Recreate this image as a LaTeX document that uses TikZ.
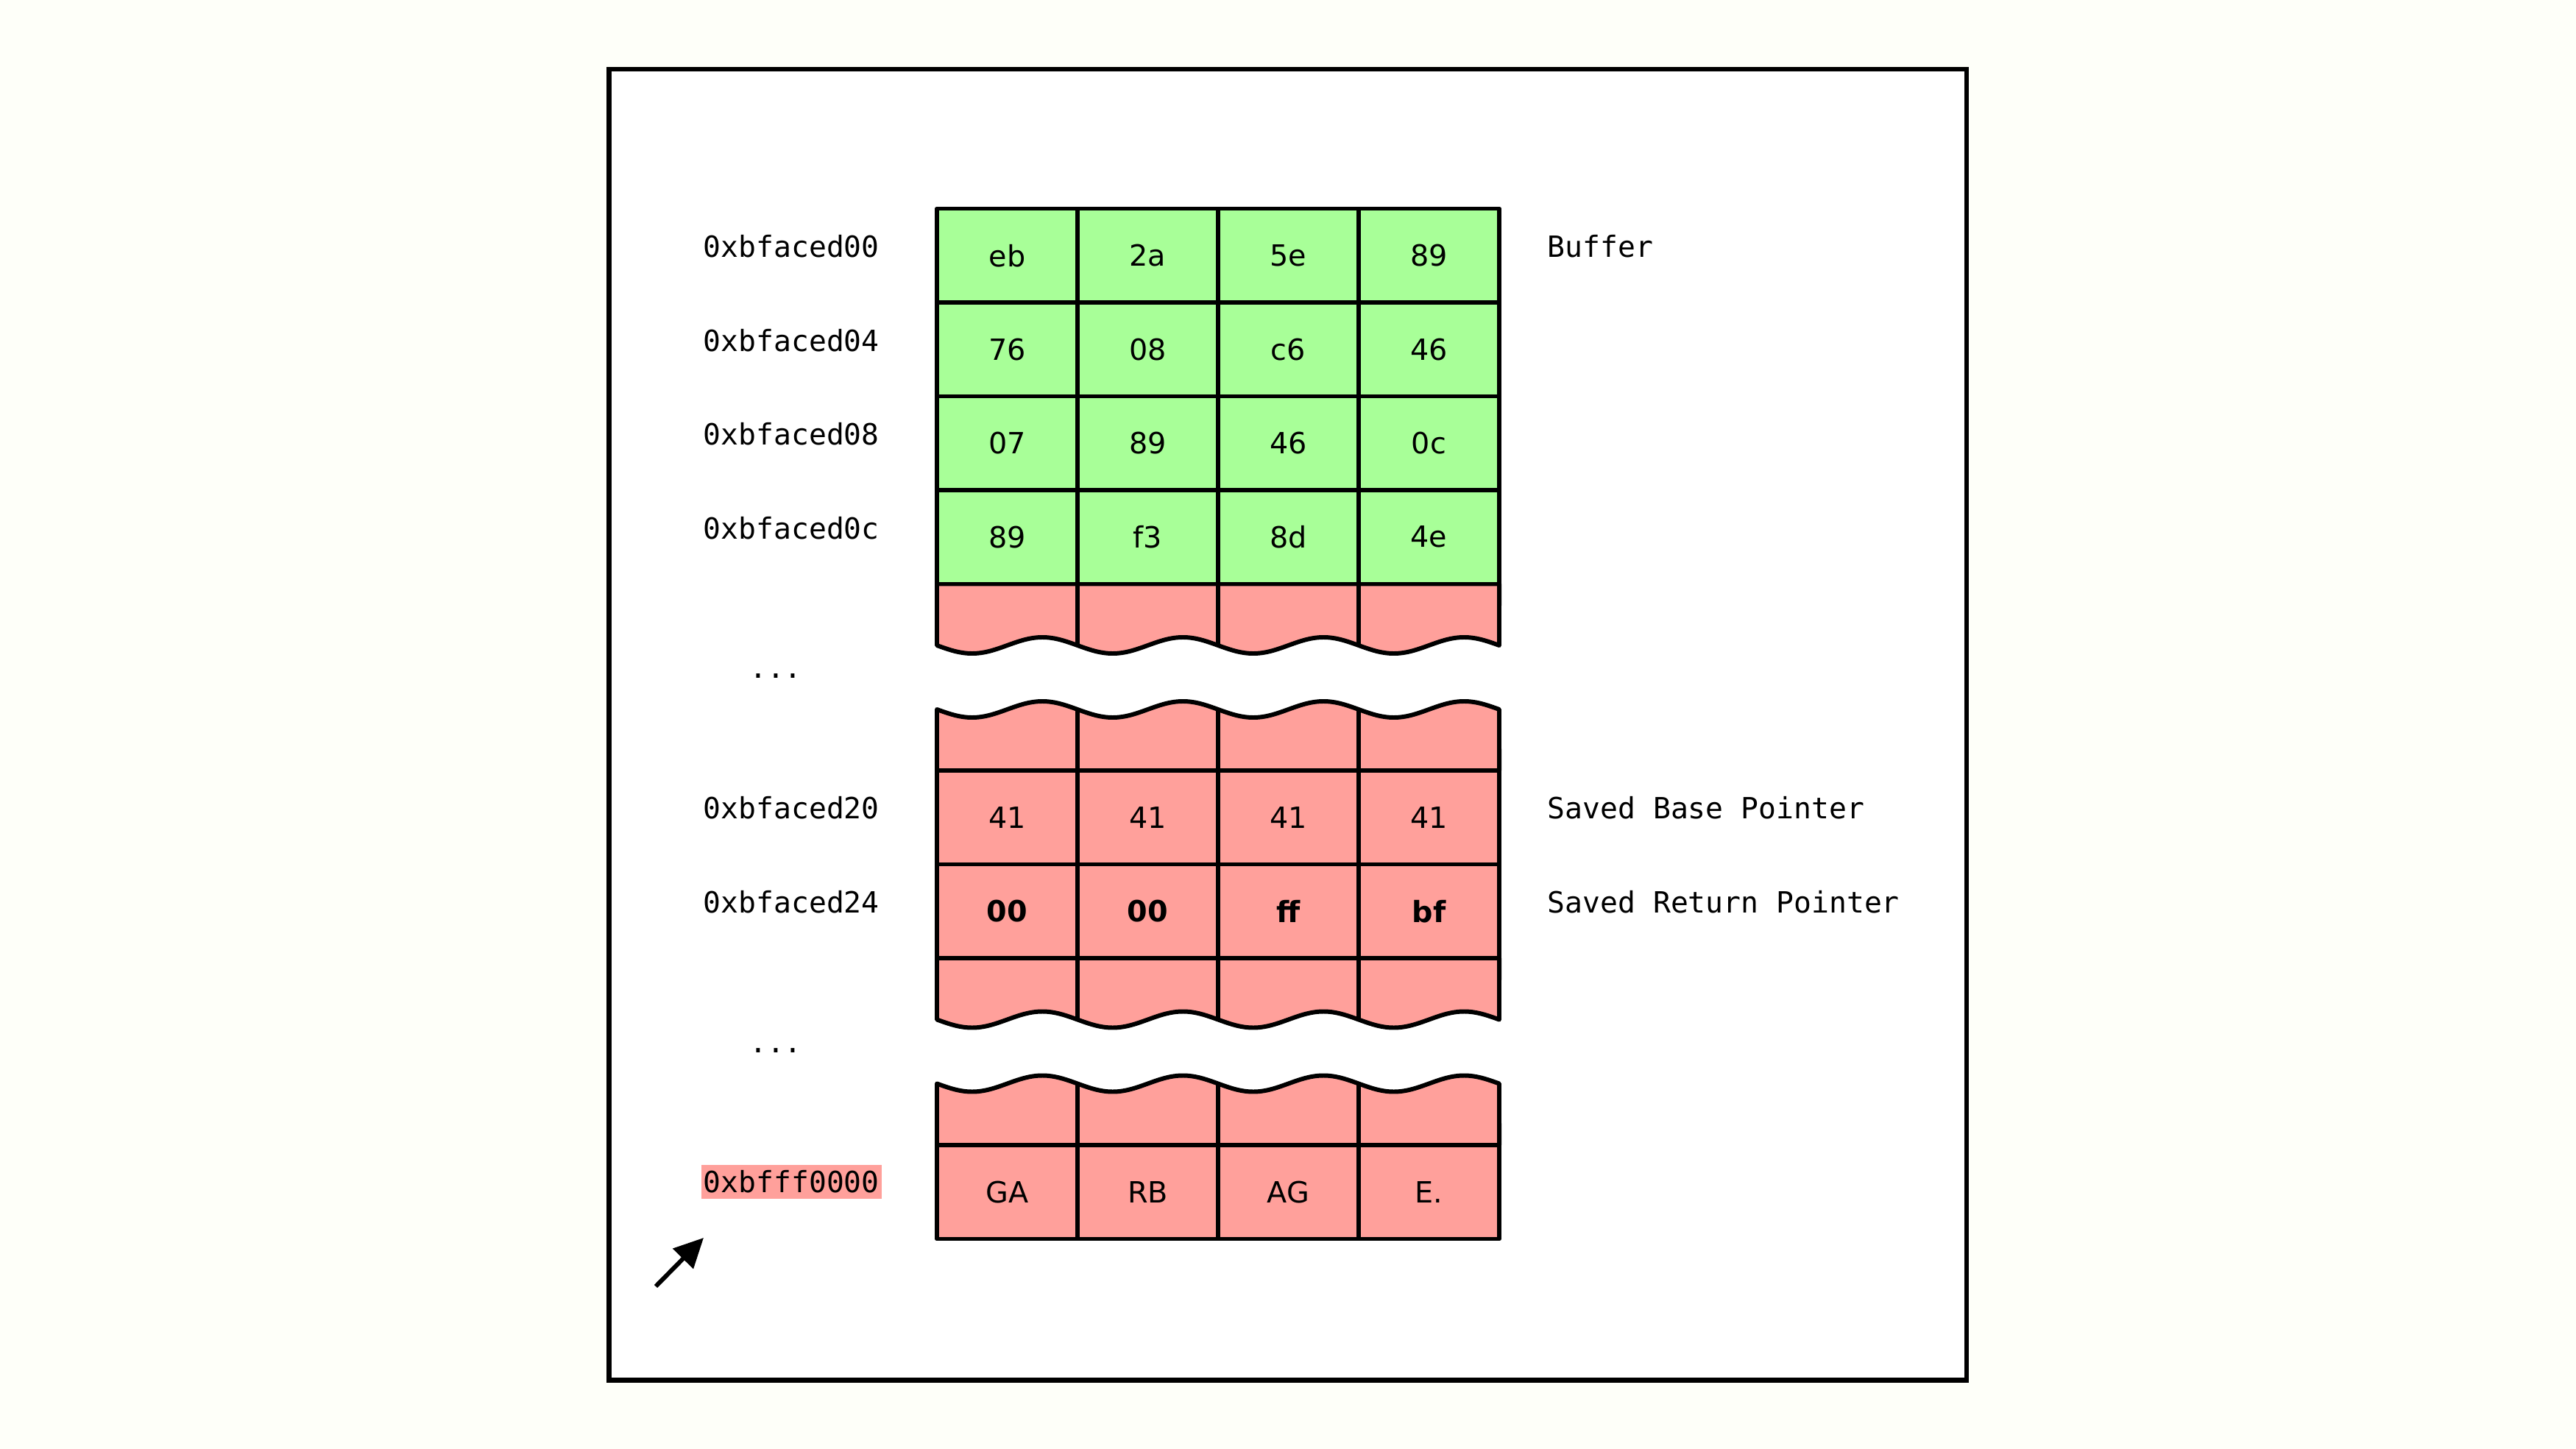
\documentclass[tikz,border=0pt]{standalone}
\usepackage{fontspec}
\setmainfont{DejaVu Sans}
\setmonofont{DejaVu Sans Mono}
\usetikzlibrary{arrows.meta}
\definecolor{bgcream}{RGB}{254,255,249}
\definecolor{cellgreen}{RGB}{168,255,152}
\definecolor{cellred}{RGB}{255,160,155}
\tikzset{
  gridline/.style={draw=black, line width=1.7pt, line join=round},
  cell/.style={gridline, minimum width=1.91cm, minimum height=1.275cm, inner sep=0pt,
    font=\fontsize{11.3}{13}\selectfont},
  gcell/.style={cell, fill=cellgreen},
  rcell/.style={cell, fill=cellred},
  bcell/.style={cell, fill=cellred, font=\fontsize{11.3}{13}\selectfont\bfseries},
  addr/.style={anchor=west, inner sep=0pt, font=\fontsize{11.3}{13}\selectfont\ttfamily},
  note/.style={anchor=west, inner sep=0pt, font=\fontsize{11.3}{13}\selectfont\ttfamily},
  dots/.style={anchor=base, inner sep=0pt, font=\fontsize{11.3}{13}\selectfont\ttfamily},
}
\newcommand\wavyrow{\foreach \i in {1,...,4}{ sin ++(0.4775,-0.11) cos ++(0.4775,0.11) sin ++(0.4775,0.11) cos ++(0.4775,-0.11)}}
\begin{document}
\begin{tikzpicture}
\useasboundingbox[fill=bgcream] (0,0) rectangle (35,-19.69);
\draw[line width=1.9pt, fill=white] (8.275,-0.94) rectangle (26.72,-18.755);

% wavy partial pieces
\draw[gridline, fill=cellred] (12.73,-7.935) -- (12.73,-8.77) \wavyrow -- (20.37,-7.935) -- cycle;
\draw[gridline, fill=cellred] (12.73,-10.47) -- (12.73,-9.64) \wavyrow -- (20.37,-10.47) -- cycle;
\draw[gridline, fill=cellred] (12.73,-13.02) -- (12.73,-13.855) \wavyrow -- (20.37,-13.02) -- cycle;
\draw[gridline, fill=cellred] (12.73,-15.56) -- (12.73,-14.725) \wavyrow -- (20.37,-15.56) -- cycle;
\foreach \x in {14.64,16.55,18.46}{
  \draw[gridline] (\x,-7.935) -- (\x,-8.77);
  \draw[gridline] (\x,-10.47) -- (\x,-9.64);
  \draw[gridline] (\x,-13.02) -- (\x,-13.855);
  \draw[gridline] (\x,-15.56) -- (\x,-14.725);
}

% green buffer cells
\node[gcell] (c11) at (13.685,-3.4725) {eb};
\node[gcell] (c12) at (15.595,-3.4725) {2a};
\node[gcell] (c13) at (17.505,-3.4725) {5e};
\node[gcell] (c14) at (19.415,-3.4725) {89};
\node[gcell] (c21) at (13.685,-4.7475) {76};
\node[gcell] (c22) at (15.595,-4.7475) {08};
\node[gcell] (c23) at (17.505,-4.7475) {c6};
\node[gcell] (c24) at (19.415,-4.7475) {46};
\node[gcell] (c31) at (13.685,-6.0225) {07};
\node[gcell] (c32) at (15.595,-6.0225) {89};
\node[gcell] (c33) at (17.505,-6.0225) {46};
\node[gcell] (c34) at (19.415,-6.0225) {0c};
\node[gcell] (c41) at (13.685,-7.2975) {89};
\node[gcell] (c42) at (15.595,-7.2975) {f3};
\node[gcell] (c43) at (17.505,-7.2975) {8d};
\node[gcell] (c44) at (19.415,-7.2975) {4e};

% saved pointers
\node[rcell] (s11) at (13.685,-11.1075) {41};
\node[rcell] (s12) at (15.595,-11.1075) {41};
\node[rcell] (s13) at (17.505,-11.1075) {41};
\node[rcell] (s14) at (19.415,-11.1075) {41};
\node[bcell] (s21) at (13.685,-12.3825) {00};
\node[bcell] (s22) at (15.595,-12.3825) {00};
\node[bcell] (s23) at (17.505,-12.3825) {ff};
\node[bcell] (s24) at (19.415,-12.3825) {bf};

% top of stack
\node[rcell] (t1) at (13.685,-16.1975) {GA};
\node[rcell] (t2) at (15.595,-16.1975) {RB};
\node[rcell] (t3) at (17.505,-16.1975) {AG};
\node[rcell] (t4) at (19.415,-16.1975) {E.};

% addresses
\node[addr] (a1) at (9.55,-3.35) {0xbfaced00};
\node[addr] (a2) at (9.55,-4.625) {0xbfaced04};
\node[addr] (a3) at (9.55,-5.90) {0xbfaced08};
\node[addr] (a4) at (9.55,-7.175) {0xbfaced0c};
\node[dots] (d1) at (10.54,-9.215) {...};
\node[addr] (a5) at (9.55,-10.98) {0xbfaced20};
\node[addr] (a6) at (9.55,-12.255) {0xbfaced24};
\node[dots] (d2) at (10.54,-14.30) {...};
\node[addr, fill=cellred, inner xsep=0.03cm, minimum height=0.46cm] (a7) at (9.52,-16.06) {0xbfff0000};

% right notes
\node[note] (n1) at (21.02,-3.35) {Buffer};
\node[note] (n2) at (21.02,-10.98) {Saved Base Pointer};
\node[note] (n3) at (21.02,-12.255) {Saved Return Pointer};

% arrow
\coordinate (arrS) at (8.91,-17.48);
\coordinate (arrE) at (9.56,-16.82);
\draw[line width=1.7pt, -{Triangle[length=0.4cm,width=0.38cm]}] (arrS) -- (arrE);
\end{tikzpicture}
\end{document}
